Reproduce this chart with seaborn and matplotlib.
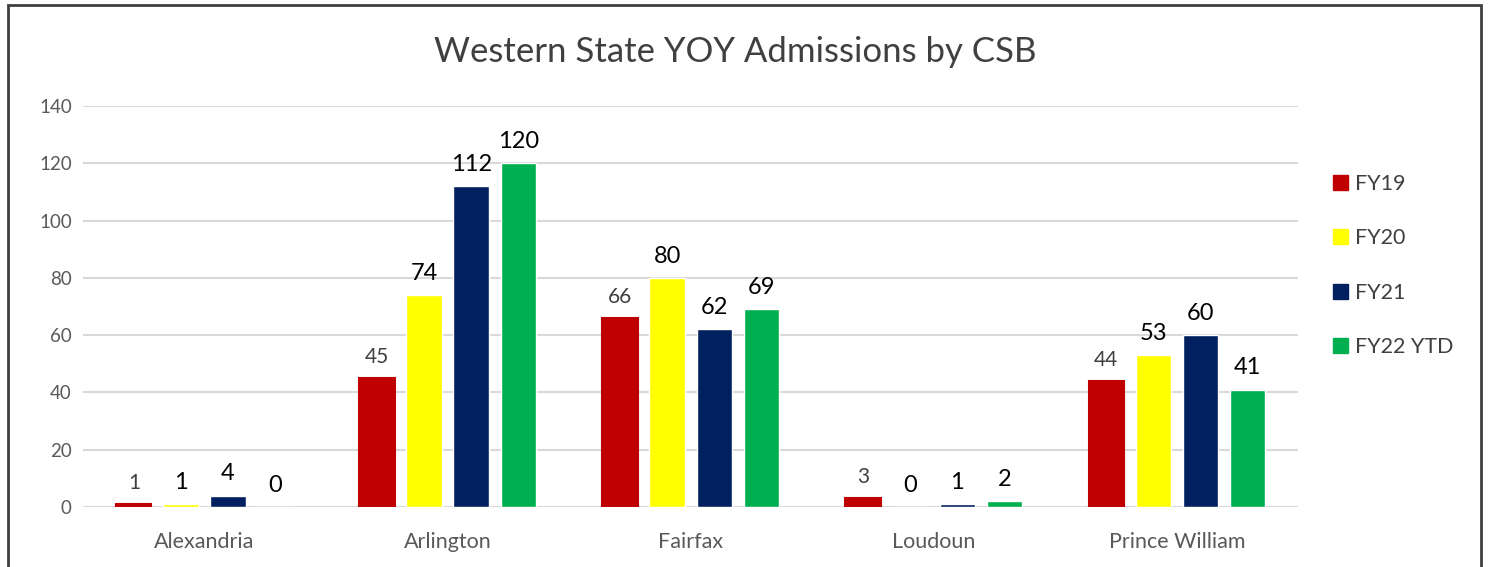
import matplotlib
matplotlib.use("Agg")
import matplotlib.pyplot as plt
import pandas as pd
import seaborn as sns
from matplotlib.patches import Rectangle

# ── data ──────────────────────────────────────────────────────────────────────
csbs = ["Alexandria", "Arlington", "Fairfax", "Loudoun", "Prince William"]
years = ["FY19", "FY20", "FY21", "FY22 YTD"]
fy19 = [1, 45, 66, 3, 44]
fy20 = [1, 74, 80, 0, 53]
fy21 = [4, 112, 62, 1, 60]
fy22 = [0, 120, 69, 2, 41]
colors = ["#C00000", "#FFFF00", "#002060", "#00B050"]

df = pd.DataFrame({
    "csb": csbs * 4,
    "year": [y for y in years for _ in csbs],
    "admissions": fy19 + fy20 + fy21 + fy22,
})

sns.set_theme(style="white")
plt.rcParams["font.family"] = ["Lato", "DejaVu Sans"]

fig = plt.figure(figsize=(14.89, 5.67), dpi=100)
ax = fig.add_axes([0.0557, 0.1058, 0.8163, 0.7072])

sns.barplot(data=df, x="csb", y="admissions", hue="year", order=csbs,
            hue_order=years, palette=colors, width=0.775, gap=0.25,
            saturation=1, ax=ax, legend=False)

# FY19 bars carry a thin outline in the original
for p in ax.containers[0]:
    p.set_edgecolor(colors[0])
    p.set_linewidth(1.5)

for cont, year in zip(ax.containers, years):
    first = year == "FY19"
    ax.bar_label(cont, fmt="%d", padding=8,
                 fontsize=15 if first else 17,
                 color="#404040" if first else "black")

ax.set_ylim(0, 140)
ax.set_xlim(-0.5, 4.5)
ax.set_yticks(range(0, 141, 20))
ax.yaxis.grid(True, color="#D9D9D9", linewidth=1.5)
ax.set_axisbelow(True)
for s in ax.spines.values():
    s.set_visible(False)
ax.tick_params(axis="y", length=0, labelsize=13.5, colors="#595959", pad=8)
ax.tick_params(axis="x", length=0, labelsize=15.5, colors="#595959", pad=18)
ax.set_xlabel("")
ax.set_ylabel("")

fig.text(0.494, 0.908, "Western State YOY Admissions by CSB",
         ha="center", va="center", fontsize=25, color="#404040")

handles = [Rectangle((0, 0), 1, 1, color=c) for c in colors]
fig.legend(handles, years, loc="center left", bbox_to_anchor=(0.882, 0.532),
           frameon=False, fontsize=15.5, labelcolor="#404040",
           handlelength=0.7, handleheight=0.7, handletextpad=0.35,
           labelspacing=1.6)

# chart frame
fig.patches.append(Rectangle((0.0054, -0.05), 0.989, 1.041, transform=fig.transFigure,
                             fill=False, edgecolor="#404040", linewidth=2))

fig.savefig("out.png", dpi=100)
